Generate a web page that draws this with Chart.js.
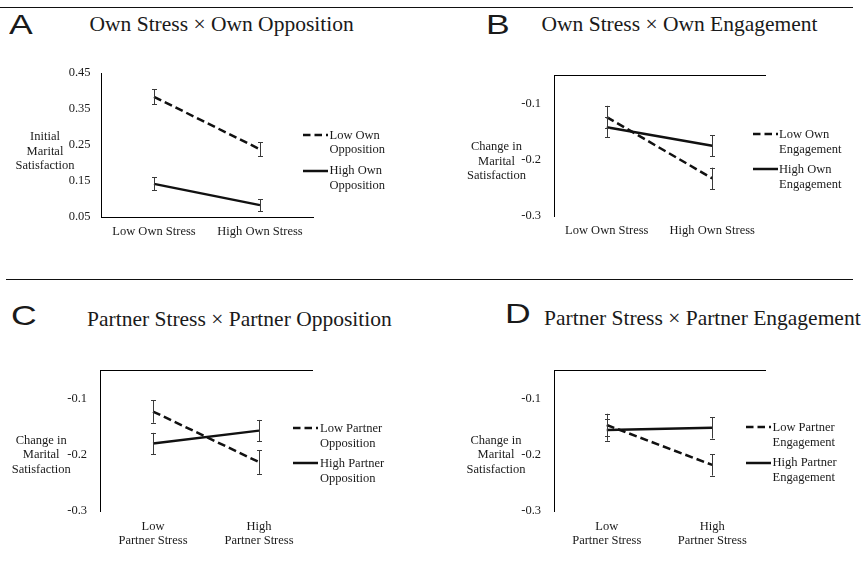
<!DOCTYPE html>
<html><head><meta charset="utf-8">
<script src="https://cdn.jsdelivr.net/npm/chart.js@4"></script>
<style>
html,body{margin:0;padding:0;background:#fff;}
body{width:862px;height:572px;position:relative;overflow:hidden;font-family:"Liberation Serif","Times New Roman",Tinos,"DejaVu Serif",serif;color:#1a1a1a;}
.abs{position:absolute;white-space:nowrap;}
.letter{font-family:"Liberation Sans",Arial,sans-serif;font-size:28px;line-height:28px;transform:scaleX(1.27);transform-origin:0 0;}
.title{font-size:21.5px;line-height:21.5px;}
.sm{font-size:12.5px;line-height:14.5px;}
.hr{position:absolute;height:1px;background:#111;}
canvas{position:absolute;}
svg{position:absolute;overflow:visible;}
</style></head><body>
<div class="hr" style="left:0;top:7px;width:853px"></div>
<div class="hr" style="left:6px;top:279px;width:847px"></div>
<script>
// ---------- data ----------
const catsOwn = ['Low Own Stress', 'High Own Stress'];
const catsPartner = [['Low', 'Partner Stress'], ['High', 'Partner Stress']];

const lowOwnOpp = [0.384, 0.238];      const lowOwnOppErr = [0.021, 0.019];
const highOwnOpp = [0.142, 0.083];     const highOwnOppErr = [0.018, 0.017];

const lowOwnEng = [-0.124, -0.233];    const lowOwnEngErr = [0.020, 0.019];
const highOwnEng = [-0.142, -0.175];   const highOwnEngErr = [0.018, 0.019];

const lowPartOpp = [-0.123, -0.213];   const lowPartOppErr = [0.020, 0.021];
const highPartOpp = [-0.180, -0.157];  const highPartOppErr = [0.019, 0.019];

const lowPartEng = [-0.147, -0.218];   const lowPartEngErr = [0.020, 0.019];
const highPartEng = [-0.156, -0.152];  const highPartEngErr = [0.019, 0.019];

const yTicksInitial = [0.05, 0.15, 0.25, 0.35, 0.45];
const yLabelsInitial = ['0.05', '0.15', '0.25', '0.35', '0.45'];
const yTicksChange = [-0.3, -0.2, -0.1];
const yLabelsChange = ['-0.3', '-0.2', '-0.1'];

const titles = ['Own Stress × Own Opposition', 'Own Stress × Own Engagement',
                'Partner Stress × Partner Opposition', 'Partner Stress × Partner Engagement'];
const letters = ['A', 'B', 'C', 'D'];
const yTitleInitial = ['Initial', 'Marital', 'Satisfaction'];
const yTitleChange = ['Change in', 'Marital', 'Satisfaction'];
const legA = [['Low Own', 'Opposition'], ['High Own', 'Opposition']];
const legB = [['Low Own', 'Engagement'], ['High Own', 'Engagement']];
const legC = [['Low Partner', 'Opposition'], ['High Partner', 'Opposition']];
const legD = [['Low Partner', 'Engagement'], ['High Partner', 'Engagement']];

// ---------- rendering ----------
const FONT = '"Liberation Serif", "Times New Roman", Tinos, "DejaVu Serif", serif';
const INK = '#111';

const errorBars = {
  id: 'errorBars',
  afterDatasetsDraw(chart) {
    const ctx = chart.ctx, ys = chart.scales.y;
    chart.data.datasets.forEach((ds, i) => {
      const meta = chart.getDatasetMeta(i);
      meta.data.forEach((pt, j) => {
        const v = ds.data[j], e = ds.errors[j];
        const y1 = ys.getPixelForValue(v + e), y2 = ys.getPixelForValue(v - e);
        const x = Math.round(pt.x) + 0.5;
        ctx.save();
        ctx.strokeStyle = '#3a3a3a'; ctx.lineWidth = 1;
        ctx.beginPath();
        ctx.moveTo(x, y1); ctx.lineTo(x, y2);
        ctx.moveTo(x - 2.5, Math.round(y1) + 0.5); ctx.lineTo(x + 2.5, Math.round(y1) + 0.5);
        ctx.moveTo(x - 2.5, Math.round(y2) + 0.5); ctx.lineTo(x + 2.5, Math.round(y2) + 0.5);
        ctx.stroke();
        ctx.restore();
      });
    });
  }
};

function addEl(cls, html, css) {
  const d = document.createElement('div');
  d.className = 'abs ' + cls;
  d.innerHTML = html;
  Object.assign(d.style, css);
  document.body.appendChild(d);
  return d;
}

function legendSample(x1, x2, y, dashed) {
  const ns = 'http://www.w3.org/2000/svg';
  const svg = document.createElementNS(ns, 'svg');
  svg.setAttribute('width', x2 - x1 + 2);
  svg.setAttribute('height', 6);
  svg.style.left = x1 + 'px';
  svg.style.top = (y - 3) + 'px';
  const ln = document.createElementNS(ns, 'line');
  ln.setAttribute('x1', 0); ln.setAttribute('x2', x2 - x1);
  ln.setAttribute('y1', 3); ln.setAttribute('y2', 3);
  ln.setAttribute('stroke', INK); ln.setAttribute('stroke-width', 2.5);
  if (dashed) ln.setAttribute('stroke-dasharray', '7.5 4');
  svg.appendChild(ln);
  document.body.appendChild(svg);
}

function makePanel(p) {
  const c = document.createElement('canvas');
  c.width = p.cw; c.height = p.ch;
  c.style.left = p.cx + 'px'; c.style.top = p.cy + 'px';
  c.style.width = p.cw + 'px'; c.style.height = p.ch + 'px';
  document.body.appendChild(c);

  const mk = (label, data, errors, dashed) => ({
    label, data, errors,
    borderColor: INK, backgroundColor: INK, borderWidth: 2.5,
    borderDash: dashed ? [8, 4] : [], pointRadius: 0, tension: 0, fill: false
  });

  const scales = {
    x: {
      type: 'category', labels: p.cats, offset: true, position: 'bottom',
      grid: { display: false, drawTicks: false },
      border: { display: p.bottomLine, color: '#000', width: 1 },
      ticks: { color: '#1a1a1a', font: { family: FONT, size: 12.5, lineHeight: 1.12 },
               padding: p.xPad, maxRotation: 0, minRotation: 0, autoSkip: false },
      afterFit: s => { s.height = p.xh; }
    },
    y: {
      type: 'linear', min: p.yMin, max: p.yMax,
      grid: { display: false, drawTicks: false },
      border: { display: true, color: '#000', width: 1 },
      afterBuildTicks: s => { s.ticks = p.yTicks.map(v => ({ value: v })); },
      ticks: { color: '#1a1a1a', font: { family: FONT, size: 12.5 }, padding: p.yPad, autoSkip: false,
               callback: v => p.yLabels[p.yTicks.indexOf(v)] },
      afterFit: s => { s.width = p.yw; }
    }
  };
  if (p.topLine) {
    scales.x2 = {
      type: 'category', labels: p.cats, offset: true, position: 'top',
      grid: { display: false, drawTicks: false },
      border: { display: true, color: '#000', width: 1 },
      ticks: { display: false },
      afterFit: s => { s.height = 0; }
    };
  }

  new Chart(c, {
    type: 'line',
    data: {
      labels: p.cats,
      datasets: [mk(p.leg[0].join(' '), p.low, p.lowErr, true),
                 mk(p.leg[1].join(' '), p.high, p.highErr, false)]
    },
    options: {
      responsive: false, animation: false, devicePixelRatio: 1,
      layout: { padding: { left: 0, top: p.pt, right: p.pr, bottom: 0 } },
      plugins: { legend: { display: false }, tooltip: { enabled: false } },
      scales
    },
    plugins: [errorBars]
  });

  addEl('letter', p.letter, { left: p.letterX + 'px', top: p.letterY + 'px' });
  addEl('title', p.title, { left: p.titleX + 'px', top: p.titleY + 'px' });
  addEl('sm', p.yTitle.join('<br>'), { left: (p.ytX - 50) + 'px', width: '100px', textAlign: 'center', top: (p.ytY - 7.25) + 'px' });
  legendSample(p.lgX1, p.lgX2, p.lgY1, true);
  legendSample(p.lgX1, p.lgX2, p.lgY2, false);
  addEl('sm', p.leg[0].join('<br>'), { left: p.lgTX + 'px', top: (p.lgY1 - 7.25) + 'px' });
  addEl('sm', p.leg[1].join('<br>'), { left: p.lgTX + 'px', top: (p.lgY2 - 7.25) + 'px' });
}

// Panel A
makePanel({
  cx: 40, cy: 55, cw: 290, ch: 200, yw: 61, pr: 17, pt: 15, xh: 38, xPad: 8, yPad: 10.5,
  cats: catsOwn, low: lowOwnOpp, lowErr: lowOwnOppErr, high: highOwnOpp, highErr: highOwnOppErr,
  yMin: 0.05, yMax: 0.45, yTicks: yTicksInitial, yLabels: yLabelsInitial,
  bottomLine: true, topLine: false,
  letter: letters[0], letterX: 9, letterY: 11.3, title: titles[0], titleX: 89.5, titleY: 14,
  yTitle: yTitleInitial, ytX: 45, ytY: 136.7,
  leg: legA, lgX1: 303.3, lgX2: 328.3, lgY1: 135, lgY2: 170.7, lgTX: 329.5
});
// Panel B
makePanel({
  cx: 480, cy: 55, cw: 300, ch: 200, yw: 74, pr: 15, pt: 15, xh: 39, xPad: 8, yPad: 13,
  cats: catsOwn, low: lowOwnEng, lowErr: lowOwnEngErr, high: highOwnEng, highErr: highOwnEngErr,
  yMin: -0.3, yMax: -0.05, yTicks: yTicksChange, yLabels: yLabelsChange,
  bottomLine: false, topLine: true,
  letter: letters[1], letterX: 486, letterY: 11.3, title: titles[1], titleX: 541.5, titleY: 14,
  yTitle: yTitleChange, ytX: 496.5, ytY: 146.5,
  leg: legB, lgX1: 752.7, lgX2: 777.7, lgY1: 134.3, lgY2: 169.3, lgTX: 779
});
// Panel C
makePanel({
  cx: 35, cy: 350, cw: 290, ch: 215, yw: 65, pr: 13, pt: 15, xh: 54, xPad: 8.5, yPad: 13,
  cats: catsPartner, low: lowPartOpp, lowErr: lowPartOppErr, high: highPartOpp, highErr: highPartOppErr,
  yMin: -0.3, yMax: -0.05, yTicks: yTicksChange, yLabels: yLabelsChange,
  bottomLine: false, topLine: true,
  letter: letters[2], letterX: 11, letterY: 301.5, title: titles[2], titleX: 87, titleY: 308.5,
  yTitle: yTitleChange, ytX: 41.2, ytY: 440,
  leg: legC, lgX1: 293.3, lgX2: 318.3, lgY1: 428.3, lgY2: 463.3, lgTX: 320
});
// Panel D
makePanel({
  cx: 480, cy: 350, cw: 300, ch: 215, yw: 74, pr: 15, pt: 16, xh: 54, xPad: 8.5, yPad: 13,
  cats: catsPartner, low: lowPartEng, lowErr: lowPartEngErr, high: highPartEng, highErr: highPartEngErr,
  yMin: -0.3, yMax: -0.05, yTicks: yTicksChange, yLabels: yLabelsChange,
  bottomLine: false, topLine: true,
  letter: letters[3], letterX: 505, letterY: 299.5, title: titles[3], titleX: 544, titleY: 308,
  yTitle: yTitleChange, ytX: 496, ytY: 440,
  leg: legD, lgX1: 746, lgX2: 771, lgY1: 427.3, lgY2: 462.7, lgTX: 772.5
});
</script>
</body></html>
